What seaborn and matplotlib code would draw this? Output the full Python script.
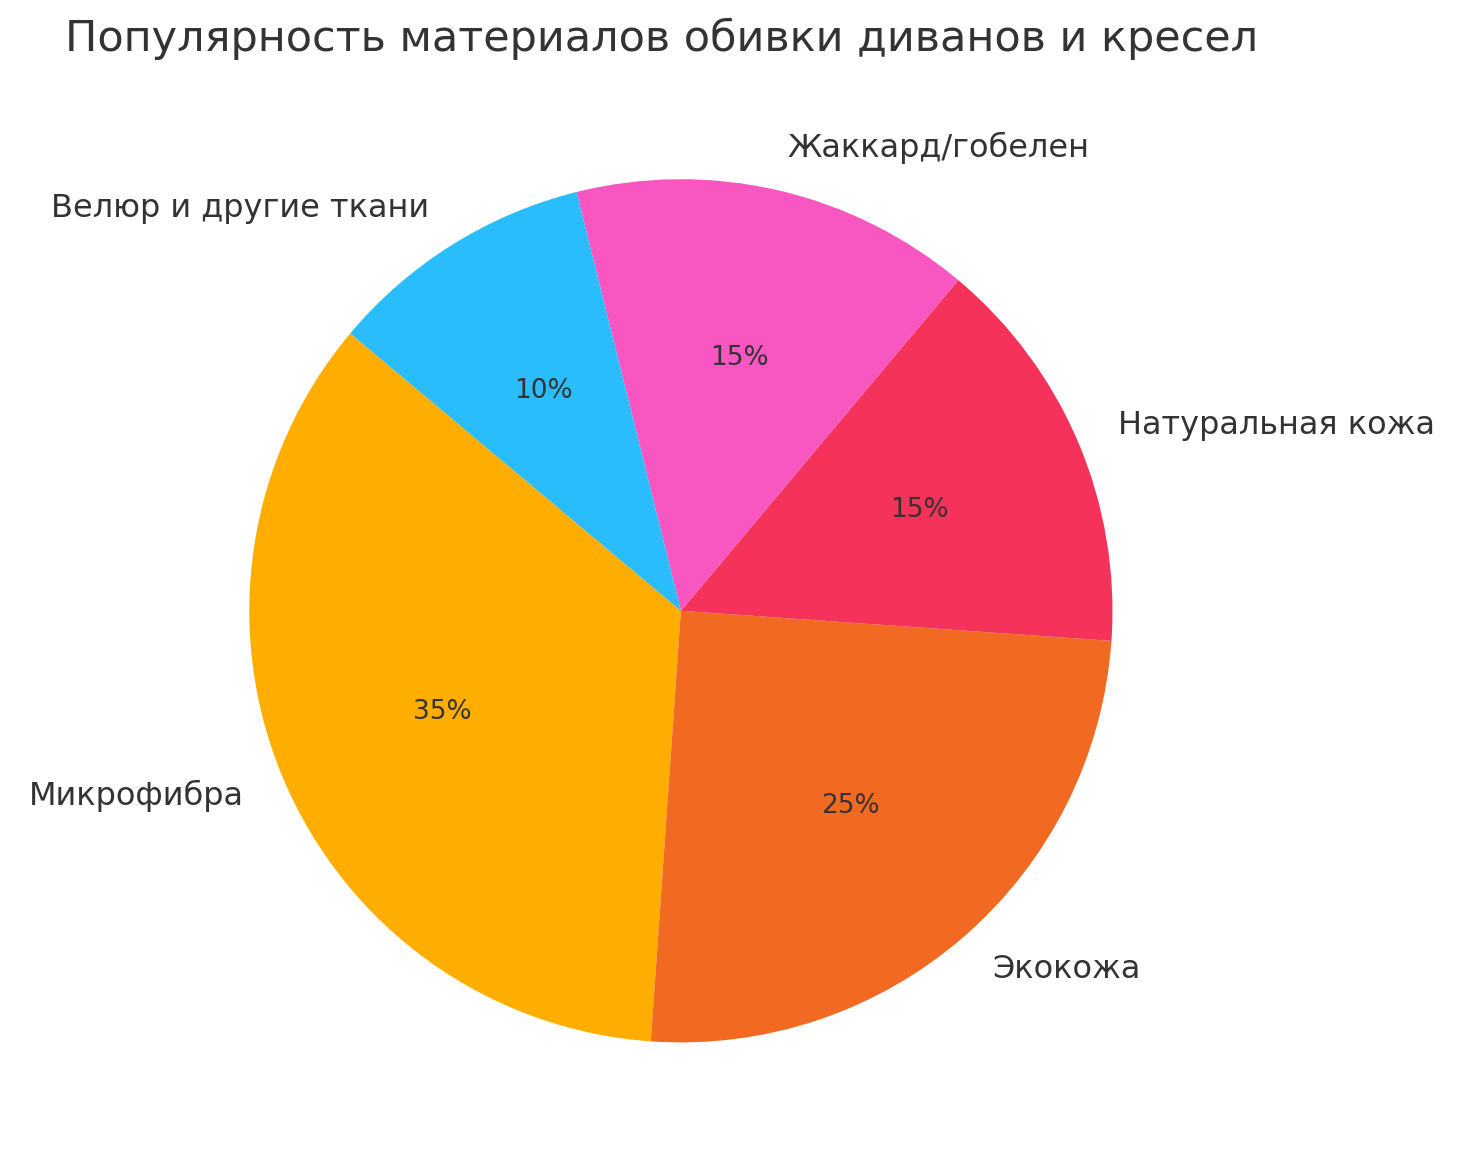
import matplotlib
matplotlib.use("Agg")
import matplotlib.pyplot as plt
import seaborn as sns

sns.set_theme(style="white")
plt.rcParams['font.family'] = ['DejaVu Sans']

labels = ["Микрофибра", "Экокожа", "Натуральная кожа", "Жаккард/гобелен", "Велюр и другие ткани"]
values = [35, 25, 15, 15, 10]
colors = ["#FFAE00", "#F26A21", "#F5325A", "#F857C1", "#29BDFD"]

fig = plt.figure(figsize=(14.69, 11.69), dpi=100)
ax = fig.add_axes([0.096, 0.016, 0.735, 0.923])
wedges, texts, autotexts = ax.pie(values, labels=labels, colors=colors, startangle=140,
                                  autopct='%1.0f%%', labeldistance=1.1, pctdistance=0.6,
                                  wedgeprops={'linewidth': 0},
                                  textprops={'fontsize': 23, 'color': '#333333'})
for t in autotexts:
    t.set_fontsize(19)
ax.set_aspect('equal')
fig.text(0.044, 0.985, "Популярность материалов обивки диванов и кресел", fontsize=31,
         color='#333333', ha='left', va='top')
fig.savefig("out.png", dpi=100, facecolor='white')
